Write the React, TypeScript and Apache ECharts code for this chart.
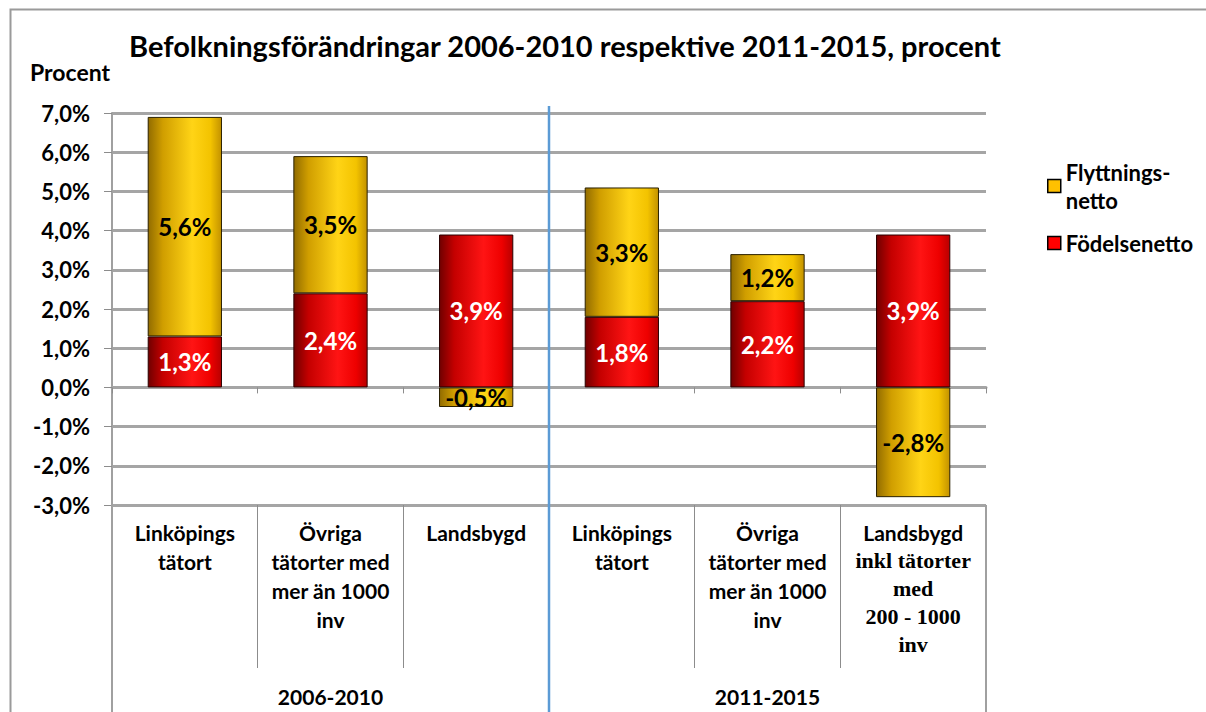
import React, { useEffect, useRef } from "react";
import * as echarts from "echarts";

const categories = [
  "Linköpings\ntätort",
  "Övriga\ntätorter med\nmer än 1000\ninv",
  "Landsbygd",
  "Linköpings\ntätort",
  "Övriga\ntätorter med\nmer än 1000\ninv",
  "Landsbygd\ninkl tätorter\nmed\n200 - 1000\ninv",
];
const groups = ["2006-2010", "2011-2015"];
const fodelsenetto = [1.3, 2.4, 3.9, 1.8, 2.2, 3.9];
const flyttningsnetto = [5.6, 3.5, -0.5, 3.3, 1.2, -2.8];
const yMin = -3;
const yMax = 7;

const FONT = "Lato, 'Open Sans', sans-serif";
const SERIF = "'Liberation Serif', 'DejaVu Serif', serif";

const fmt = (v: number) => v.toFixed(1).replace(".", ",") + "%";

export default function App() {
  const ref = useRef<HTMLDivElement>(null);
  useEffect(() => {
    if (!ref.current) return;
    const chart = echarts.init(ref.current, undefined, { renderer: "svg" });
    const yellow = new echarts.graphic.LinearGradient(0, 0, 1, 0, [
      { offset: 0, color: "#926c00" },
      { offset: 0.2, color: "#d09e00" },
      { offset: 0.6, color: "#ffd416" },
      { offset: 0.85, color: "#f3c300" },
      { offset: 1, color: "#c39200" },
    ]);
    const red = new echarts.graphic.LinearGradient(0, 0, 1, 0, [
      { offset: 0, color: "#700000" },
      { offset: 0.2, color: "#c40000" },
      { offset: 0.6, color: "#ff1414" },
      { offset: 0.85, color: "#ee0000" },
      { offset: 1, color: "#b80000" },
    ]);
    const gridLeft = 112;
    const gridRight = 1206 - 986;
    const gridTop = 113;
    const gridBottom = 712 - 505;

    const frameAndText = [
      {
        type: "polyline",
        shape: { points: [[10.5, 712], [10.5, 9.5], [1206, 9.5]] },
        style: { stroke: "#9a9a9a", lineWidth: 2, fill: "none" },
        silent: true,
      },
      {
        type: "text",
        left: 30,
        top: 60,
        style: { text: "Procent", fontFamily: FONT, fontSize: 23, fontWeight: "bold", fill: "#000" },
      },
    ];

    const option: any = {
      animation: false,
      title: {
        text: "Befolkningsförändringar 2006-2010 respektive 2011-2015, procent",
        left: 124,
        top: 26,
        textStyle: { fontFamily: FONT, fontSize: 29, fontWeight: "bold", color: "#000" },
      },
      legend: {
        orient: "vertical",
        left: 1042,
        top: 139,
        itemWidth: 13,
        itemHeight: 13,
        itemGap: 1,
        icon: "rect",
        textStyle: { fontFamily: FONT, fontSize: 22, fontWeight: "bold", color: "#000", lineHeight: 28 },
        formatter: (n: string) => (n === "Flyttningsnetto" ? "Flyttnings-\nnetto" : n),
        data: [
          {
            name: "Flyttningsnetto",
            itemStyle: { color: "#ffc000", borderColor: "#000", borderWidth: 1.5 },
            textStyle: { padding: [28, 0, 0, 0] },
          },
          {
            name: "Födelsenetto",
            itemStyle: { color: "#ff0000", borderColor: "#000", borderWidth: 1.5 },
          },
        ],
      },
      grid: { left: gridLeft, right: gridRight, top: gridTop, bottom: gridBottom, containLabel: false },
      xAxis: [
        {
          type: "category",
          data: categories,
          position: "bottom",
          axisLine: { onZero: true, lineStyle: { color: "#a5a5a5", width: 3 } },
          axisTick: { show: true, interval: 0, length: 6, lineStyle: { color: "#8c8c8c", width: 1 } },
          axisLabel: { show: false },
          splitLine: { show: false },
        },
        {
          type: "category",
          data: categories,
          position: "bottom",
          axisLine: { onZero: false, show: false },
          axisTick: { show: true, interval: 0, length: 163, lineStyle: { color: "#8c8c8c", width: 1 } },
          axisLabel: {
            interval: 0,
            margin: 13,
            verticalAlign: "top",
            fontFamily: FONT,
            fontSize: 21,
            fontWeight: "bold",
            color: "#000",
            lineHeight: 29,
            formatter: (v: string) => {
              if (v.indexOf("inkl") >= 0) {
                const lines = v.split("\n");
                return lines
                  .map((l, i) => (i === 0 ? "{a|" + l + "}" : "{s|" + l + "}"))
                  .join("\n");
              }
              return v;
            },
            rich: {
              a: { fontFamily: FONT, fontSize: 21, fontWeight: "bold", color: "#000", lineHeight: 28 },
              s: { fontFamily: SERIF, fontSize: 22, fontWeight: "bold", color: "#000", lineHeight: 28 },
            },
          },
        },
        {
          type: "category",
          data: groups,
          position: "bottom",
          axisLine: { onZero: false, show: false },
          axisTick: { show: true, interval: 0, length: 210, lineStyle: { color: "#a0a0a0", width: 2 } },
          axisLabel: {
            interval: 0,
            margin: 181,
            fontFamily: FONT,
            fontSize: 21,
            fontWeight: "bold",
            color: "#000",
          },
        },
      ],
      yAxis: {
        type: "value",
        min: yMin,
        max: yMax,
        interval: 1,
        axisLine: { show: true, lineStyle: { color: "#a0a0a0", width: 2 } },
        axisTick: { show: true, length: 8, lineStyle: { color: "#8c8c8c" } },
        axisLabel: {
          margin: 22,
          formatter: (v: number) => fmt(v),
          fontFamily: FONT,
          fontSize: 22,
          fontWeight: "bold",
          color: "#000",
        },
        splitLine: { show: true, lineStyle: { color: "#a5a5a5", width: 3 } },
      },
      series: [
        {
          name: "Födelsenetto",
          type: "bar",
          stack: "tot",
          xAxisIndex: 0,
          barWidth: "51%",
          data: fodelsenetto,
          itemStyle: { color: red, borderColor: "#2a0000", borderWidth: 1 },
          label: {
            show: true,
            position: "inside",
            formatter: (p: any) => fmt(p.value),
            fontFamily: FONT,
            fontSize: 24,
            fontWeight: "bold",
            color: "#fff",
          },
        },
        {
          name: "Flyttningsnetto",
          type: "bar",
          stack: "tot",
          xAxisIndex: 0,
          barWidth: "51%",
          data: flyttningsnetto,
          itemStyle: { color: yellow, borderColor: "#2a2000", borderWidth: 1 },
          label: {
            show: true,
            position: "inside",
            formatter: (p: any) => fmt(p.value),
            fontFamily: FONT,
            fontSize: 24,
            fontWeight: "bold",
            color: "#000",
          },
        },
      ],
      graphic: frameAndText,
    };
    chart.setOption(option);

    // blue separator between the two periods, placed through the axis scale
    const x2 = chart.convertToPixel({ xAxisIndex: 0 }, 2) as number;
    const x3 = chart.convertToPixel({ xAxisIndex: 0 }, 3) as number;
    const yTop = chart.convertToPixel({ yAxisIndex: 0 }, yMax) as number;
    const xm = (x2 + x3) / 2;
    chart.setOption({
      graphic: [
        ...frameAndText,
        {
          type: "line",
          shape: { x1: xm, y1: yTop - 7, x2: xm, y2: 712 },
          style: { stroke: "#5b9bd5", lineWidth: 2.5 },
          z: 10,
          silent: true,
        },
      ],
    });
    return () => chart.dispose();
  }, []);
  return (
    <div
      ref={ref}
      style={{ position: "fixed", left: 0, top: 0, width: 1206, height: 712, background: "#fff" }}
    />
  );
}
